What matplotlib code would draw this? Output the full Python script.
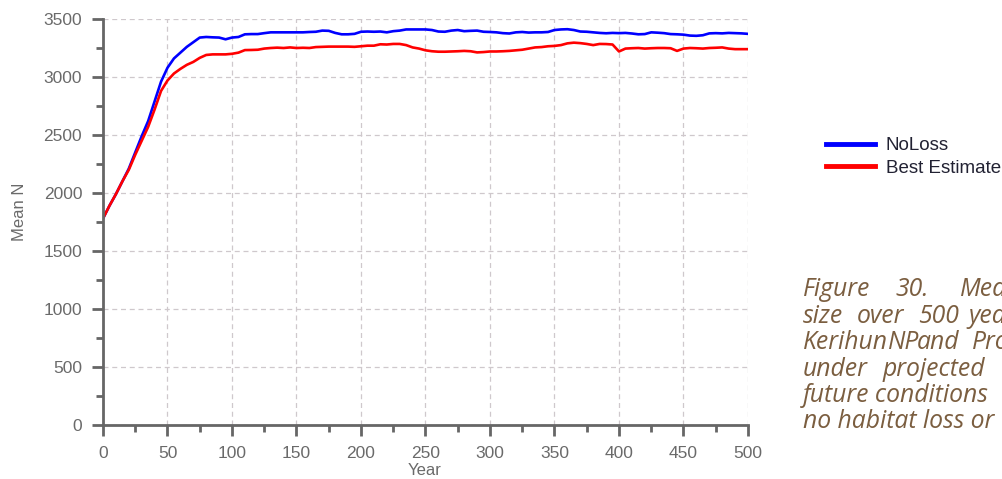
import numpy as np
import matplotlib
matplotlib.use("Agg")
import matplotlib.pyplot as plt
from matplotlib.ticker import MultipleLocator

# données (toutes les 5 années)
annees = np.arange(0, 505, 5)

noloss = [1780, 1890, 1990, 2100, 2210, 2350, 2490, 2620, 2790, 2960,
          3080, 3160, 3210, 3260, 3300, 3340, 3345, 3342, 3340, 3325,
          3340, 3345, 3368, 3370, 3370, 3378, 3385, 3385, 3385, 3385,
          3385, 3385, 3388, 3390, 3400, 3398, 3380, 3368, 3368, 3372,
          3390, 3392, 3390, 3392, 3385, 3395, 3400, 3410, 3410, 3410,
          3410, 3405, 3392, 3390, 3400, 3405, 3395, 3398, 3400, 3390,
          3388, 3385, 3378, 3375, 3385, 3388, 3383, 3385, 3385, 3388,
          3405, 3410, 3412, 3405, 3392, 3390, 3385, 3380, 3377, 3380,
          3378, 3380, 3375, 3368, 3370, 3385, 3382, 3378, 3370, 3368,
          3365, 3357, 3355, 3360, 3376, 3378, 3376, 3380, 3378, 3376,
          3372]

best = [1780, 1890, 1990, 2100, 2200, 2330, 2450, 2570, 2720, 2880,
        2970, 3030, 3070, 3105, 3130, 3165, 3190, 3195, 3195, 3195,
        3200, 3210, 3232, 3233, 3235, 3245, 3250, 3253, 3250, 3255,
        3250, 3252, 3250, 3258, 3260, 3262, 3262, 3262, 3262, 3260,
        3265, 3270, 3270, 3282, 3280, 3285, 3285, 3275, 3255, 3245,
        3230, 3222, 3218, 3218, 3220, 3222, 3225, 3222, 3212, 3215,
        3220, 3220, 3222, 3225, 3230, 3235, 3245, 3255, 3258, 3265,
        3268, 3275, 3290, 3296, 3292, 3285, 3275, 3285, 3284, 3280,
        3220, 3245, 3248, 3250, 3245, 3248, 3250, 3250, 3248, 3225,
        3245, 3250, 3248, 3245, 3250, 3252, 3255, 3245, 3240, 3240,
        3240]

legende = ["NoLoss", "Best Estimate"]

# texte de la légende de figure (justifié, coupé au bord droit comme l'original)
lignes_legende = [
    [("Figure", 803), ("30.", 895), ("Mean", 960)],
    [("size", 803), ("over", 857), ("500", 918), ("years", 968)],
    [("Kerihun", 803), ("NP", 888), ("and", 917), ("Pro", 972)],
    [("under", 803), ("projected", 883)],
    [("future conditions", 803)],
    [("no habitat loss or", 803)],
]

W, H = 1003, 479
fig = plt.figure(figsize=(W / 100, H / 100), dpi=100)
ax = fig.add_axes([103 / W, 1 - 425 / H, (748 - 103) / W, (425 - 19) / H])

l1, = ax.plot(annees, noloss, color="#0000ff", lw=1.9)
l2, = ax.plot(annees, best, color="#ff0000", lw=1.9)

ax.set_xlim(0, 500)
ax.set_ylim(0, 3500)
ax.xaxis.set_major_locator(MultipleLocator(50))
ax.xaxis.set_minor_locator(MultipleLocator(25))
ax.yaxis.set_major_locator(MultipleLocator(500))
ax.yaxis.set_minor_locator(MultipleLocator(250))

ax.grid(True, which="major", color="#cfc8cc", ls=(0, (4, 3)), lw=0.9)
ax.set_axisbelow(True)
for s in ["top", "right"]:
    ax.spines[s].set_visible(False)
for s in ["left", "bottom"]:
    ax.spines[s].set_color("#666666")
    ax.spines[s].set_linewidth(2)

ax.tick_params(which="major", length=8, width=2, color="#666666",
               labelcolor="#6a6a6a", labelsize=12.5, pad=7)
ax.tick_params(which="minor", length=5, width=2, color="#666666")

police = "Liberation Sans"
for lab in ax.get_xticklabels() + ax.get_yticklabels():
    lab.set_family(police)

ax.set_xlabel("Year", fontsize=12, color="#6a6a6a", family=police)
ax.set_ylabel("Mean N", fontsize=12, color="#6a6a6a", family=police)
ax.xaxis.set_label_coords(0.499, -0.094)
ax.yaxis.set_label_coords(-0.118, 0.525)

leg = fig.legend([l1, l2], legende, loc="upper left",
                 bbox_to_anchor=(826 / W, 1 - 137 / H), frameon=False,
                 borderpad=0, borderaxespad=0,
                 handlelength=2.6, handletextpad=0.6, labelspacing=0.3,
                 prop={"family": police, "size": 13.5}, labelcolor="#222233")
for ln in leg.get_lines():
    ln.set_linewidth(3.5)

# légende de figure
for i, ligne in enumerate(lignes_legende):
    for mot, x in ligne:
        fig.text(x / W, 1 - (290 + i * 26.4) / H, mot, ha="left", va="center",
                 fontsize=17.8, style="italic", family="Open Sans",
                 color="#7b5e40")

fig.savefig("out.png", dpi=100)
